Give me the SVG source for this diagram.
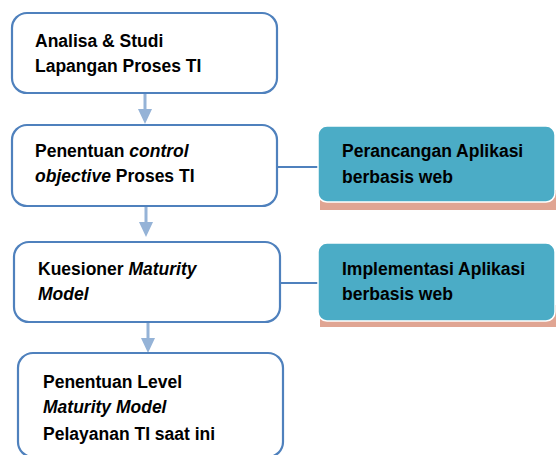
<svg xmlns="http://www.w3.org/2000/svg" width="556" height="455" viewBox="0 0 556 455">
<defs>
<style>
.box{fill:#fff;stroke:#4F81BD;stroke-width:2.2}
.tbox{fill:#4BACC6;stroke:#fff;stroke-width:1.5}
.shadow{fill:#E0A593}
.t{font-family:"Liberation Sans",Arial,sans-serif;font-weight:bold;font-size:17.5px;fill:#000}
.i{font-style:italic}
.arr{stroke:#95B3D7;stroke-width:3;fill:none}
.head{fill:#95B3D7}
.link{stroke:#4F81BD;stroke-width:2.2;fill:none}
</style>
</defs>
<g id="connectors">
<line class="arr" x1="145" y1="94" x2="145" y2="111"/>
<polygon class="head" points="138,109 152,109 145,124"/>
<line class="arr" x1="146" y1="207" x2="146" y2="223"/>
<polygon class="head" points="139,222 153,222 146,237"/>
<line class="arr" x1="148" y1="323" x2="148" y2="339"/>
<polygon class="head" points="141,338 155,338 148,353"/>
<line class="link" x1="277" y1="167" x2="320" y2="167"/>
<line class="link" x1="280" y1="283" x2="320" y2="283"/>
</g>
<g id="n1">
<rect class="box" x="12" y="13" width="265" height="80" rx="15"/>
<text class="t" x="35" y="47">Analisa &amp; Studi</text>
<text class="t" x="35" y="72">Lapangan Proses TI</text>
</g>
<g id="n2">
<rect class="box" x="12" y="125" width="265" height="81" rx="15"/>
<text class="t" x="35" y="157">Penentuan <tspan class="i">control</tspan></text>
<text class="t" x="35" y="182"><tspan class="i">objective</tspan> Proses TI</text>
</g>
<g id="n3">
<rect class="box" x="14" y="242" width="266" height="80" rx="15"/>
<text class="t" x="38" y="275">Kuesioner <tspan class="i">Maturity</tspan></text>
<text class="t" x="38" y="300" font-style="italic">Model</text>
</g>
<g id="n4">
<rect class="box" x="18" y="353" width="265" height="104" rx="15"/>
<text class="t" x="43" y="388">Penentuan Level</text>
<text class="t i" x="43" y="413">Maturity Model</text>
<text class="t" x="43" y="440">Pelayanan TI saat ini</text>
</g>
<g id="n5">
<rect class="shadow" x="320" y="190" width="240" height="20"/>
<rect class="tbox" x="318" y="126" width="237" height="76" rx="9"/>
<text class="t" x="342" y="157">Perancangan Aplikasi</text>
<text class="t" x="342" y="183">berbasis web</text>
</g>
<g id="n6">
<rect class="shadow" x="320" y="305" width="240" height="22"/>
<rect class="tbox" x="318" y="243" width="237" height="78" rx="9"/>
<text class="t" x="342" y="275">Implementasi Aplikasi</text>
<text class="t" x="342" y="300">berbasis web</text>
</g>
</svg>
